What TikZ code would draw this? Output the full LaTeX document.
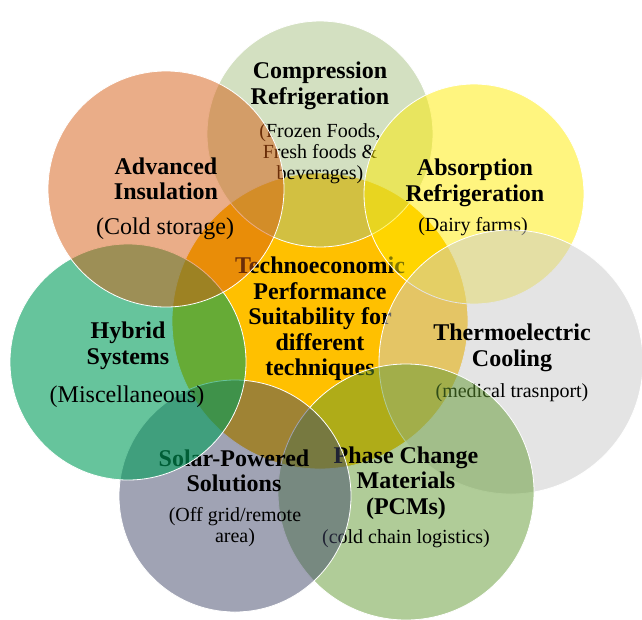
\documentclass[tikz,border=0pt]{standalone}
\usepackage{fontspec}
\setmainfont{Liberation Serif}
\definecolor{cComp}{RGB}{167,193,131}
\definecolor{cAbs}{RGB}{255,235,0}
\definecolor{cTher}{RGB}{202,202,202}
\definecolor{cPcm}{RGB}{97,153,49}
\definecolor{cSol}{RGB}{65,71,105}
\definecolor{cHyb}{RGB}{0,157,90}
\definecolor{cAdv}{RGB}{213,91,17}
\definecolor{cCen}{RGB}{255,192,0}
\begin{document}
\begin{tikzpicture}[x=1pt,y=-1pt]
\tikzset{
  ring/.style={circle, draw=white, line width=0.8pt, fill opacity=0.5, inner sep=0pt},
  ttl/.style={font=\bfseries\fontsize{24}{25.5}\selectfont, align=center, inner sep=0pt},
  sub/.style={font=\fontsize{20}{21}\selectfont, align=center, inner sep=0pt},
  subbig/.style={font=\fontsize{24}{26}\selectfont, align=center, inner sep=0pt}
}
\useasboundingbox (0,0) rectangle (642,619);
% centre
\node[circle, draw=white, line width=0.8pt, fill=cCen, minimum size=296, inner sep=0pt] (cen) at (320,321) {};
\node[ttl] (cenT) at (320,319) {Technoeconomic\\Performance\\Suitability for\\different\\techniques};
% compression
\node[ring, fill=cComp, minimum size=226] (comp) at (320,134) {};
\node[ttl] (compT) at (320,86) {Compression\\Refrigeration};
\node[sub] (compS) at (320,154) {(Frozen Foods,\\Fresh foods \&\\beverages)};
% absorption
\node[ring, fill=cAbs, minimum size=220] (abs) at (474,194) {};
\node[ttl] (absT) at (475,183) {Absorption\\Refrigeration};
\node[sub] (absS) at (473,227) {(Dairy farms)};
% thermoelectric
\node[ring, fill=cTher, minimum size=264] (ther) at (511,362) {};
\node[ttl] (therT) at (512,348) {Thermoelectric\\Cooling};
\node[sub] (therS) at (512,393) {(medical trasnport)};
% PCM
\node[ring, fill=cPcm, minimum size=256] (pcm) at (406,492) {};
\node[ttl] (pcmT) at (406,483) {Phase Change\\Materials\\(PCMs)};
\node[sub] (pcmS) at (406,539) {(cold chain logistics)};
% solar
\node[ring, fill=cSol, minimum size=232] (sol) at (235,496) {};
\node[ttl] (solT) at (234,471) {Solar-Powered\\Solutions};
\node[sub] (solS) at (235,527) {(Off grid/remote\\area)};
% hybrid
\node[ring, fill=cHyb, fill opacity=0.6, minimum size=236] (hyb) at (128,362) {};
\node[ttl] (hybT) at (128,346) {Hybrid\\Systems};
\node[subbig] (hybS) at (127,397) {(Miscellaneous)};
% advanced insulation
\node[ring, fill=cAdv, minimum size=236] (adv) at (166,189) {};
\node[ttl] (advT) at (166,179) {Advanced\\Insulation};
\node[subbig] (advS) at (165,229) {(Cold storage)};
\end{tikzpicture}
\end{document}
